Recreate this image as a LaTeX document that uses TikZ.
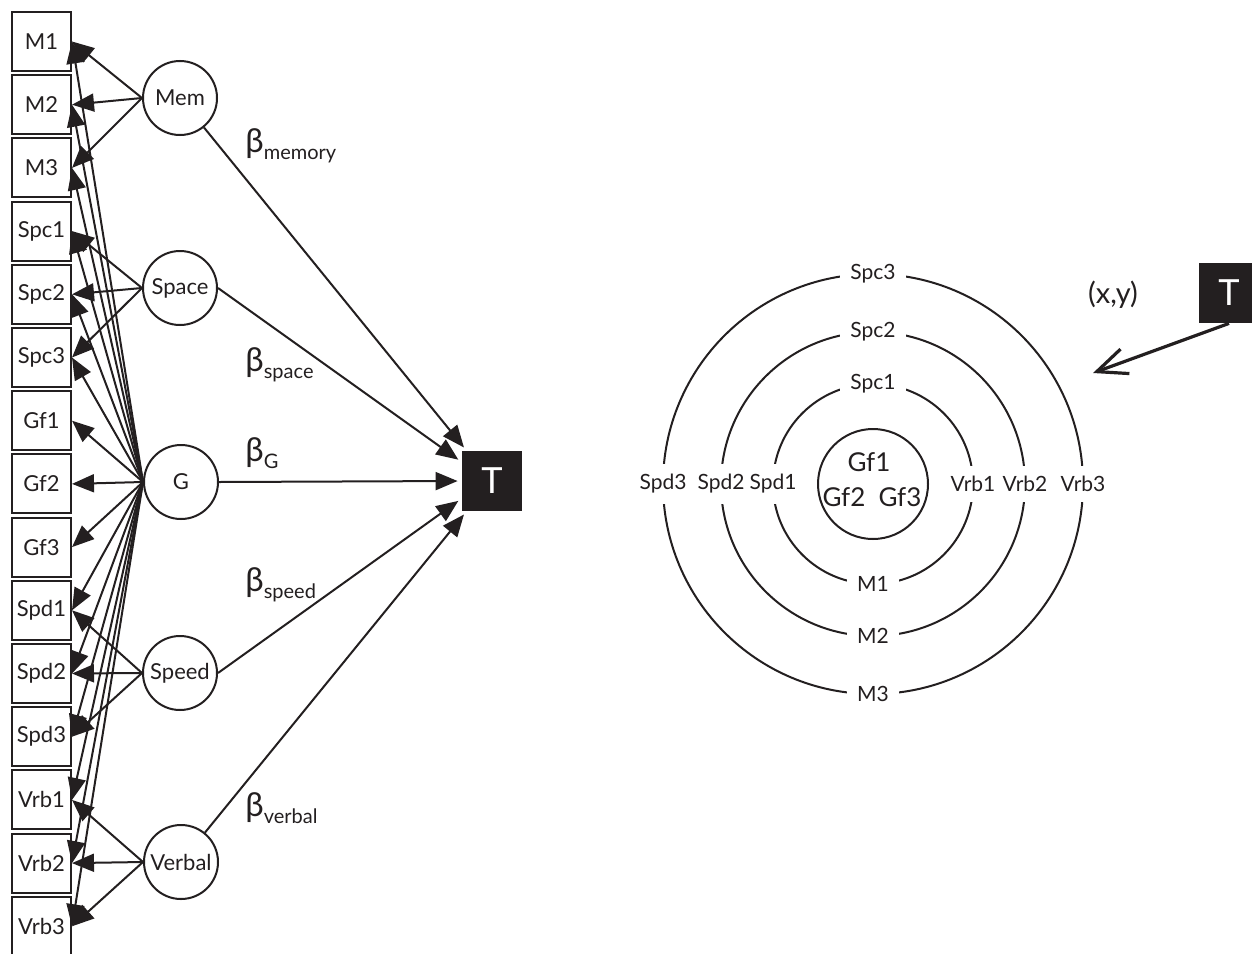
\documentclass[tikz,border=0pt]{standalone}
\usepackage{fontspec}
\setmainfont{Lato}
\usetikzlibrary{arrows.meta}
\usepackage{xcolor}
\definecolor{ink}{HTML}{231F20}
\newcommand{\bcoef}[1]{β\raisebox{-3.5pt}{\fontsize{10}{12}\selectfont #1}}

\begin{document}
\begin{tikzpicture}[x=.5pt, y=-.5pt, color=ink,
  obs/.style={draw, line width=1pt, minimum size=29.5pt, inner sep=0pt, font=\fontsize{11}{13}\selectfont},
  lat/.style={draw, circle, line width=1pt, minimum size=37pt, inner sep=0pt, font=\fontsize{11}{13}\selectfont},
  target/.style={fill=ink, text=white, minimum size=30pt, inner sep=0pt, font=\fontsize{18}{20}\selectfont},
  load/.style={line width=1pt, -{Triangle[length=11pt, width=9pt]}},
  beta/.style={anchor=base west, inner sep=0pt, font=\fontsize{16.5}{18}\selectfont},
  ringlab/.style={fill=white, inner xsep=5pt, inner ysep=3pt, font=\fontsize{10.5}{12}\selectfont},
  sidelab/.style={ringlab, inner xsep=1pt, inner ysep=5pt}]
\useasboundingbox (0,0) rectangle (1252,953);
\clip (0,0) rectangle (1252,953);
\foreach \lab [count=\i from 0] in {M1,M2,M3,Spc1,Spc2,Spc3,Gf1,Gf2,Gf3,Spd1,Spd2,Spd3,Vrb1,Vrb2,Vrb3}
  \node[obs] (\lab) at (41.5, {41.5+63.2*\i}) {\lab};
\node[lat] (mem) at (180,98) {Mem};
\node[lat] (space) at (180,288) {Space};
\node[lat] (g) at (181,482) {G};
\node[lat] (speed) at (180,673) {Speed};
\node[lat] (verbal) at (181,862) {Verbal};
\node[target] (T) at (492,481) {T};
\foreach \t in {M1,M2,M3} \draw[load] (mem.west) -- (\t.east);
\foreach \t in {Spc1,Spc2,Spc3} \draw[load] (space.west) -- (\t.east);
\foreach \t in {Spd1,Spd2,Spd3} \draw[load] (speed.west) -- (\t.east);
\foreach \t in {Vrb1,Vrb2,Vrb3} \draw[load] (verbal.west) -- (\t.east);
\foreach \t in {M1,M2,M3,Spc1,Spc2,Spc3,Gf1,Gf2,Gf3,Spd1,Spd2,Spd3,Vrb1,Vrb2,Vrb3}
  \draw[load] (g.west) -- (\t.east);
\foreach \f/\a in {mem/130,space.east/148,g.east/180,speed.east/210,verbal/230}
  \draw[load, shorten >=2pt] (\f) -- (T.\a);
\node[beta] (bmem) at (245,152) {\bcoef{memory}};
\node[beta] (bspace) at (245,371) {\bcoef{space}};
\node[beta] (bg) at (245,461) {\bcoef{G}};
\node[beta] (bspeed) at (245,591) {\bcoef{speed}};
\node[beta] (bverbal) at (245,816) {\bcoef{verbal}};
\coordinate (c) at (873,484);
\foreach \r in {27.5,50,76,105} \draw[line width=1pt] (c) circle[radius=\r pt];
\foreach \r/\k in {50/1,76/2,105/3} {
  \node[ringlab] (spc\k) at ([shift={(90:\r pt)}]c) {Spc\k};
  \node[ringlab] (m\k) at ([shift={(-90:\r pt)}]c) {M\k};
  \node[sidelab] (spd\k) at ([shift={(180:\r pt)}]c) {Spd\k};
  \node[sidelab] (vrb\k) at ([shift={(0:\r pt)}]c) {Vrb\k};
}
\node[font=\fontsize{13}{15}\selectfont] (gf1) at (869,462) {Gf1};
\node[font=\fontsize{13}{15}\selectfont] (gf2) at (844,497) {Gf2};
\node[font=\fontsize{13}{15}\selectfont] (gf3) at (900,497) {Gf3};
\node[target] (T2) at (1229,293) {T};
\node[font=\fontsize{14.5}{16}\selectfont] (xy) at (1113,295) {(x,y)};
\coordinate (aim) at (1093,373);
\draw[line width=1.6pt, -{Straight Barb[length=15pt, width=13pt]}] (T2.south) -- (aim);
\end{tikzpicture}
\end{document}
